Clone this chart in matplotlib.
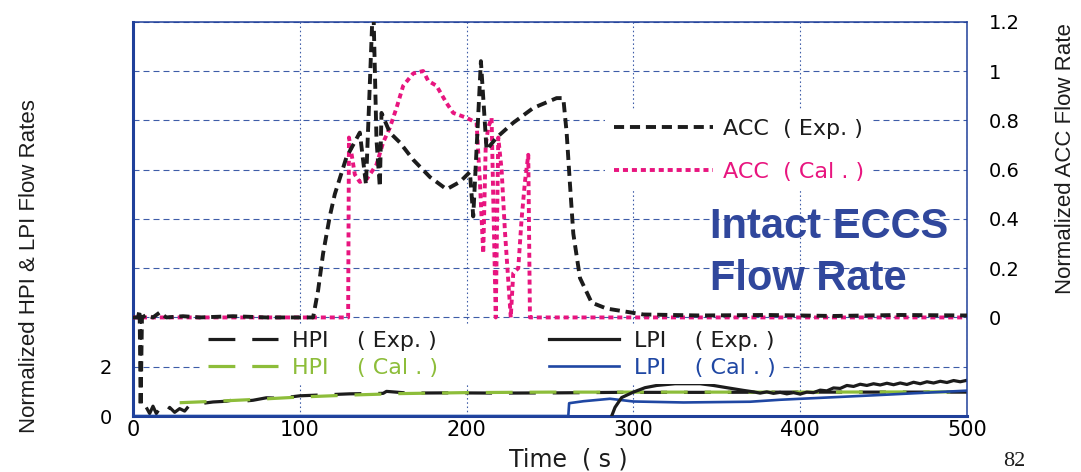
import matplotlib
matplotlib.use('Agg')
import matplotlib.pyplot as plt

# ACC flow (right axis)
acc_exp_t = [0, 3, 4, 4.6, 5.4, 8, 12, 16, 20, 30, 40, 60, 80, 100, 108, 111, 114, 118, 121, 128,
             136, 139.7, 144, 146, 148, 149, 154, 160, 168, 178, 188, 196, 202, 204, 208.6, 212,
             218, 228, 240, 254, 258, 260, 262, 264, 268, 275, 284, 306, 340, 380, 420, 460, 500]
acc_exp_v = [0, 0, 0.03, -0.36, 0, 0.01, 0, 0.02, 0, 0.005, 0, 0.005, 0, 0, 0, 0.11, 0.26, 0.41, 0.50, 0.65,
             0.75, 0.54, 1.3, 0.72, 0.53, 0.83, 0.75, 0.71, 0.64, 0.57, 0.52, 0.55, 0.59, 0.41, 1.04, 0.68,
             0.73, 0.79, 0.85, 0.89, 0.89, 0.75, 0.54, 0.34, 0.16, 0.06, 0.036, 0.012, 0.008, 0.01, 0.006, 0.01, 0.008]

acc_cal_t = [0, 129, 129.5, 133, 136, 140, 146, 150, 154, 158, 162, 168, 174, 177, 182, 188, 192, 200,
             206, 208, 210, 211.5, 213, 215, 217.5, 219, 221, 223, 226.5, 228, 231, 233, 235, 237, 238, 500]
acc_cal_v = [0, 0, 0.73, 0.58, 0.55, 0.56, 0.62, 0.71, 0.77, 0.85, 0.94, 0.99, 1.0, 0.96, 0.94, 0.87, 0.83, 0.81,
             0.79, 0.55, 0.26, 0.70, 0.77, 0.81, 0.0, 0.73, 0.6, 0.35, 0.0, 0.18, 0.2, 0.4, 0.55, 0.66, 0.0, 0.0]

# HPI / LPI flow (left axis)
hpi_exp_t = [8, 10, 12, 14, 16, 19, 22, 25, 28, 31, 34, 40, 48, 56, 62, 66, 72, 80, 88, 100, 115,
             130, 150, 152, 165, 190, 220, 255, 290, 340, 400, 450, 500]
hpi_exp_v = [0.35, 0.1, 0.4, 0.1, 0.3, 0.05, 0.35, 0.15, 0.3, 0.2, 0.45, 0.5, 0.57, 0.6, 0.68, 0.6, 0.64, 0.74, 0.72,
             0.82, 0.86, 0.9, 0.92, 1.0, 0.93, 0.94, 0.93, 0.94, 0.96, 0.96, 0.97, 0.97, 0.97]

hpi_cal_t = [28, 50, 75, 100, 130, 160, 200, 250, 300, 400, 500]
hpi_cal_v = [0.54, 0.6, 0.68, 0.77, 0.85, 0.91, 0.95, 0.97, 0.97, 0.97, 0.98]

lpi_exp_t = [287, 289, 293, 300, 307, 314, 325, 340, 348, 356, 366, 372, 376, 380, 384, 388, 392, 396,
             400, 404, 408, 412, 416, 420, 424, 428, 432, 436, 440, 444, 448, 452, 456, 460, 464, 468,
             472, 476, 480, 484, 488, 492, 496, 500]
lpi_exp_v = [0, 0.35, 0.75, 0.97, 1.15, 1.24, 1.31, 1.31, 1.24, 1.15, 1.04, 0.98, 0.93, 0.98, 0.92, 0.96, 0.9, 0.95,
             0.89, 0.97, 0.95, 1.05, 1.02, 1.14, 1.12, 1.24, 1.2, 1.29, 1.24, 1.31, 1.26, 1.33, 1.27, 1.34, 1.28, 1.37,
             1.31, 1.39, 1.34, 1.41, 1.36, 1.44, 1.39, 1.45]

lpi_cal_t = [0, 261, 261.5, 270, 286, 300, 330, 370, 388, 444, 500]
lpi_cal_v = [0, 0, 0.52, 0.6, 0.70, 0.59, 0.55, 0.58, 0.66, 0.84, 1.03]

x_ticks = [0, 100, 200, 300, 400, 500]
left_ticks = [0, 2, 4, 6, 8, 10, 12, 14, 16]
left_labels = ['0', '2', '', '', '', '', '', '', '']
right_ticks = [0, 0.2, 0.4, 0.6, 0.8, 1.0, 1.2]
right_labels = ['0', '0.2', '0.4', '0.6', '0.8', '1', '1.2']

PINK = '#e8157f'
GREEN = '#8dbd3a'
BLUE = '#1f47a3'
BLACK = '#1c1c1c'
GRID = '#3e5ca8'
SPINE = '#20409a'

fig = plt.figure(figsize=(10.81, 4.72), dpi=100)
ax = fig.add_axes([0.1230, 0.1186, 0.7715, 0.8354])
ax2 = ax.twinx()

# lower part: HPI / LPI
ax.plot(hpi_exp_t, hpi_exp_v, color=BLACK, lw=2.3, dashes=(8.4, 5.3), label='HPI    ( Exp. )', zorder=2)
ax.plot(hpi_cal_t, hpi_cal_v, color=GREEN, lw=2.3, dashes=(8.4, 5.3), label='HPI    ( Cal . )', zorder=3)
ax.plot(lpi_cal_t, lpi_cal_v, color=BLUE, lw=1.9, label='LPI    ( Cal . )', zorder=4)
ax.plot(lpi_exp_t, lpi_exp_v, color=BLACK, lw=2.3, label='LPI    ( Exp. )', zorder=5)

ax.set_xlim(0, 500)
ax.set_ylim(0, 16)
ax.set_xticks(x_ticks)
ax.set_yticks(left_ticks)
ax.set_yticklabels(left_labels)
ax.xaxis.grid(True, color=GRID, lw=0.8, dashes=(1.4, 2.4))
ax.yaxis.grid(True, color=GRID, lw=0.8, dashes=(5.4, 3.6))
ax.tick_params(axis='x', length=0, pad=3, labelsize=15)
ax.tick_params(axis='y', length=0, pad=15, labelsize=14)

# upper part: ACC
l_exp, = ax2.plot(acc_exp_t, acc_exp_v, color=BLACK, lw=2.8, dashes=(2.6, 1.5), label='ACC  ( Exp. )', zorder=3)
l_cal, = ax2.plot(acc_cal_t, acc_cal_v, color=PINK, lw=2.8, dashes=(1.3, 1.0), label='ACC  ( Cal . )', zorder=2)
ax2.set_ylim(-0.4, 1.2)
ax2.set_yticks(right_ticks)
ax2.set_yticklabels(right_labels)
ax2.tick_params(axis='y', length=0, pad=16, labelsize=14)

for name in ['left', 'bottom']:
    ax.spines[name].set_color(SPINE)
    ax.spines[name].set_linewidth(2.2)
ax.spines['top'].set_color(SPINE)
ax.spines['top'].set_linewidth(1.1)
ax.spines['right'].set_visible(False)
for name in ['left', 'bottom', 'top']:
    ax2.spines[name].set_visible(False)
ax2.spines['right'].set_color(SPINE)
ax2.spines['right'].set_linewidth(1.1)

leg_acc = ax2.legend(handles=[l_exp, l_cal], loc='upper left', bbox_to_anchor=(0.566, 0.776),
                     borderaxespad=0, borderpad=0.4, fontsize=16, handlelength=4.45, handletextpad=0.45,
                     labelspacing=1.05, frameon=True, fancybox=False, framealpha=1,
                     facecolor='white', edgecolor='none', labelcolor='linecolor')
ax2.add_artist(leg_acc)

h, lab = ax.get_legend_handles_labels()
order = [0, 1, 3, 2]
leg_pi = ax2.legend([h[i] for i in order], [lab[i] for i in order], loc='upper left',
                    bbox_to_anchor=(0.0815, 0.2325), ncol=2, borderaxespad=0, borderpad=0.3,
                    fontsize=16, handlelength=3.15, handletextpad=0.65, labelspacing=0.3,
                    columnspacing=5.0, frameon=True, fancybox=False, framealpha=1,
                    facecolor='white', edgecolor='none', labelcolor='linecolor')

ax2.text(0.6914, 0.4514, 'Intact ECCS', transform=ax2.transAxes, ha='left', va='baseline',
         fontsize=30, fontweight='bold', color='#30479c', family='Liberation Sans')
ax2.text(0.6914, 0.3196, 'Flow Rate', transform=ax2.transAxes, ha='left', va='baseline',
         fontsize=30, fontweight='bold', color='#30479c', family='Liberation Sans')

label_font = 'Liberation Sans'
ax.set_xlabel('Time  ( s )', fontsize=17, color=BLACK)
ax.xaxis.set_label_coords(0.5216, -0.081)
ax.set_ylabel('Normalized HPI & LPI Flow Rates', fontsize=16, family=label_font, color=BLACK)
ax.yaxis.set_label_coords(-0.112, 0.380)
ax2.set_ylabel('Normalized ACC Flow Rate', fontsize=16, family=label_font, color=BLACK)
ax2.yaxis.set_label_coords(1.106, 0.654)

fig.text(1014 / 1081, 1 - 452 / 472, '82', ha='center', va='top', fontsize=16,
         family='Liberation Serif', color=BLACK)

fig.savefig('out.png', dpi=100, facecolor='white')
